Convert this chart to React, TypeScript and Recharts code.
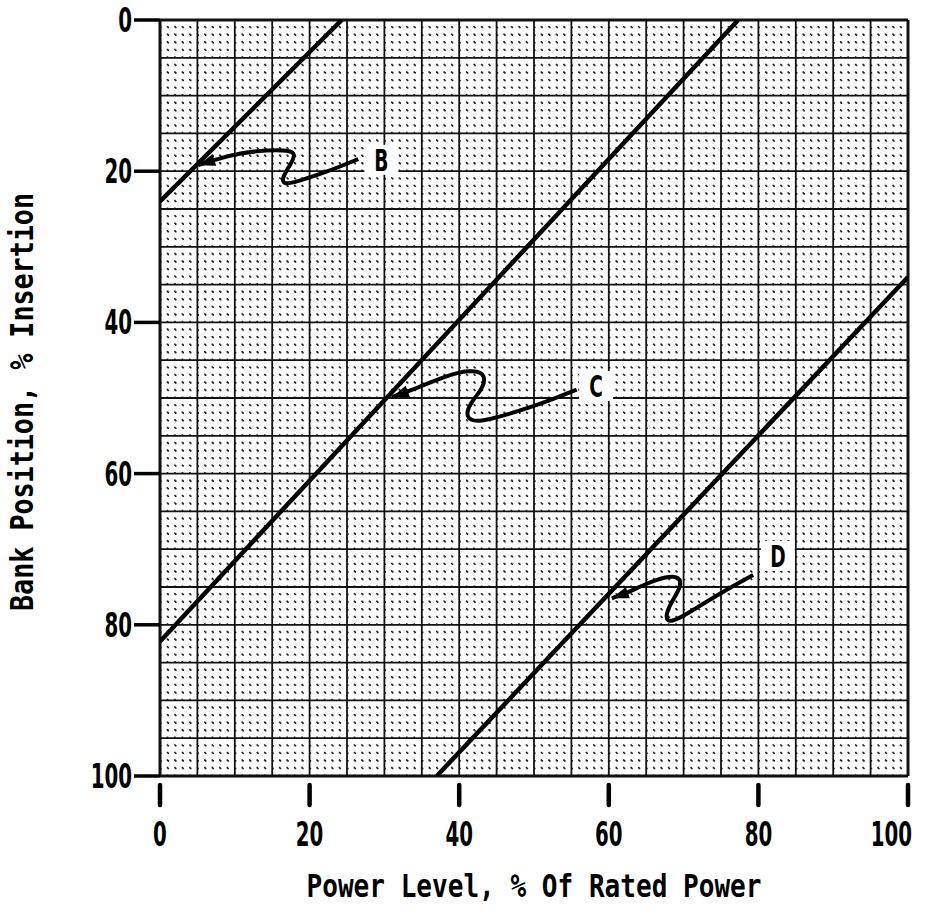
import React from 'react';
import { ComposedChart, Line, XAxis, YAxis, ReferenceLine, ReferenceDot, Label } from 'recharts';

// ---- data ----
const xTicks = [0, 20, 40, 60, 80, 100];
const yTicks = [0, 20, 40, 60, 80, 100];
const majorGrid = [0, 5, 10, 15, 20, 25, 30, 35, 40, 45, 50, 55, 60, 65, 70, 75, 80, 85, 90, 95, 100];
const minorGrid = [
  1, 2, 3, 4, 6, 7, 8, 9, 11, 12, 13, 14, 16, 17, 18, 19, 21, 22, 23, 24, 26, 27, 28, 29,
  31, 32, 33, 34, 36, 37, 38, 39, 41, 42, 43, 44, 46, 47, 48, 49, 51, 52, 53, 54, 56, 57, 58, 59,
  61, 62, 63, 64, 66, 67, 68, 69, 71, 72, 73, 74, 76, 77, 78, 79, 81, 82, 83, 84, 86, 87, 88, 89,
  91, 92, 93, 94, 96, 97, 98, 99,
];

const lineB = [{ x: 0, y: 24.0 }, { x: 24.3, y: 0 }];
const lineC = [{ x: 0, y: 82.2 }, { x: 77.3, y: 0 }];
const lineD = [{ x: 37.0, y: 100 }, { x: 100, y: 34.0 }];

const arrowB = [
  { x: 26.5, y: 18.4 }, { x: 22.3, y: 20.1 }, { x: 18.3, y: 21.4 }, { x: 16.5, y: 21.8 },
  { x: 16.3, y: 20.9 }, { x: 17.4, y: 19.2 }, { x: 18.2, y: 17.7 }, { x: 17.2, y: 17.2 },
  { x: 14.3, y: 17.2 }, { x: 10.7, y: 17.6 }, { x: 7.6, y: 18.4 }, { x: 5.1, y: 19.2 },
];
const arrowC = [
  { x: 55.7, y: 48.9 }, { x: 51.2, y: 50.7 }, { x: 46.4, y: 52.2 }, { x: 42.4, y: 53.3 },
  { x: 40.8, y: 52.6 }, { x: 41.4, y: 50.7 }, { x: 43.4, y: 48.5 }, { x: 43.4, y: 46.6 },
  { x: 41.4, y: 46.3 }, { x: 38.4, y: 47.0 }, { x: 34.8, y: 48.5 }, { x: 31.0, y: 49.9 },
];
const arrowD = [
  { x: 79.3, y: 73.4 }, { x: 74.9, y: 75.8 }, { x: 70.9, y: 78.3 }, { x: 68.2, y: 79.8 },
  { x: 67.5, y: 79.1 }, { x: 68.2, y: 77.2 }, { x: 69.7, y: 75.0 }, { x: 69.5, y: 73.6 },
  { x: 67.7, y: 73.6 }, { x: 65.1, y: 74.5 }, { x: 62.4, y: 75.8 }, { x: 60.4, y: 76.5 },
];

const curveLabels = [
  { name: 'B', x: 29.6, y: 18.5 },
  { name: 'C', x: 58.3, y: 48.4 },
  { name: 'D', x: 82.6, y: 70.9 },
];

const xTitle = 'Power Level, % Of Rated Power';
const yTitle = 'Bank Position, % Insertion';

// ---- rendering helpers ----
const INK = '#000';

const makeArrowDot = (pts: { x: number; y: number }[]) => (props: any) => {
  const { cx, cy, index } = props;
  const n = pts.length;
  if (index !== n - 1 || cx == null || cy == null) return <g key={`d${index}`} />;
  const a = pts[n - 2];
  const b = pts[n - 1];
  const dx = (b.x - a.x) * 7.48;
  const dy = (b.y - a.y) * 7.56;
  const len = Math.hypot(dx, dy) || 1;
  const ux = dx / len;
  const uy = dy / len;
  const L = 17;
  const W = 6;
  const bx = cx - ux * L;
  const by = cy - uy * L;
  const p = `${cx},${cy} ${bx - uy * W},${by + ux * W} ${bx + uy * W},${by - ux * W}`;
  return <polygon key={`arrow${index}`} points={p} fill={INK} />;
};

const XTick = (props: any) => {
  const { x, y, payload } = props;
  const isLast = payload.value === xTicks[xTicks.length - 1];
  return (
    <g>
      <line x1={x} x2={x} y1={y + 9} y2={y + 29} stroke={INK} strokeWidth={4.5} strokeLinecap="round" />
      <text
        transform={`translate(${isLast ? x + 4 : x},${y + 70}) scale(0.6,1)`}
        textAnchor={isLast ? 'end' : 'middle'}
        fontFamily="DejaVu Sans"
        fontWeight="bold"
        fontSize={33}
        fill={INK}
      >
        {payload.value}
      </text>
    </g>
  );
};

const YTick = (props: any) => {
  const { x, y, payload } = props;
  return (
    <g>
      <line x1={x - 26} x2={x} y1={y} y2={y} stroke={INK} strokeWidth={3.5} />
      <text
        transform={`translate(${x - 28},${y + 12}) scale(0.6,1)`}
        textAnchor="end"
        fontFamily="DejaVu Sans"
        fontWeight="bold"
        fontSize={33}
        fill={INK}
      >
        {payload.value}
      </text>
    </g>
  );
};

const LabelShape = (name: string) => (props: any) => {
  const { cx, cy } = props;
  if (cx == null || cy == null) return <g />;
  return (
    <g>
      <rect x={cx - 17} y={cy - 15} width={34} height={30} fill="#fff" />
      <text
        transform={`translate(${cx},${cy + 11}) scale(0.62,1)`}
        textAnchor="middle"
        fontFamily="DejaVu Sans"
        fontWeight="bold"
        fontSize={30}
        fill={INK}
      >
        {name}
      </text>
    </g>
  );
};

export default function App() {
  return (
    <div style={{ position: 'absolute', left: 0, top: 0, width: 925, height: 918, background: '#fff' }}>
      <ComposedChart width={925} height={918} margin={{ top: 20, right: 17, bottom: 42, left: 60 }}>
        <XAxis
          type="number"
          dataKey="x"
          domain={[0, 100]}
          ticks={xTicks}
          allowDataOverflow
          axisLine={false}
          tickLine={false}
          tickSize={0}
          tickMargin={0}
          height={100}
          tick={<XTick />}
          interval={0}
        >
          <Label
            content={(p: any) => {
              const vb = p.viewBox || { x: 160, y: 776, width: 748 };
              return (
                <text
                  x={vb.x + vb.width / 2}
                  y={vb.y + 121}
                  textAnchor="middle"
                  fontFamily="DejaVu Sans Mono"
                  fontWeight="bold"
                  fontSize={32}
                  textLength={455}
                  lengthAdjust="spacingAndGlyphs"
                  fill={INK}
                >
                  {xTitle}
                </text>
              );
            }}
          />
        </XAxis>
        <YAxis
          type="number"
          dataKey="y"
          domain={[0, 100]}
          reversed
          ticks={yTicks}
          allowDataOverflow
          axisLine={false}
          tickLine={false}
          tickSize={0}
          tickMargin={0}
          width={100}
          tick={<YTick />}
          interval={0}
        >
          <Label
            content={(p: any) => {
              const vb = p.viewBox || { x: 60, y: 20, height: 756 };
              const cy = vb.y + vb.height / 2 + 4;
              return (
                <text
                  transform={`translate(33,${cy}) rotate(-90)`}
                  textAnchor="middle"
                  fontFamily="DejaVu Sans Mono"
                  fontWeight="bold"
                  fontSize={32}
                  textLength={418}
                  lengthAdjust="spacingAndGlyphs"
                  fill={INK}
                >
                  {yTitle}
                </text>
              );
            }}
          />
        </YAxis>

        {minorGrid.map((v) => (
          <ReferenceLine
            key={`mh${v}`}
            y={v}
            stroke="#222"
            strokeWidth={1.6}
            strokeDasharray="1.6 5.88"
          />
        ))}
        {minorGrid.map((v) => (
          <ReferenceLine
            key={`mv${v}`}
            x={v}
            stroke="#222"
            strokeWidth={1.6}
            strokeDasharray="1.6 5.96"
          />
        ))}
        {majorGrid.map((v) => (
          <ReferenceLine
            key={`Mh${v}`}
            y={v}
            stroke="#111"
            strokeWidth={v === 0 || v === 100 ? 3 : 1.8}
          />
        ))}
        {majorGrid.map((v) => (
          <ReferenceLine
            key={`Mv${v}`}
            x={v}
            stroke="#111"
            strokeWidth={v === 0 || v === 100 ? 3 : 1.8}
          />
        ))}

        <Line data={lineB} dataKey="y" type="linear" stroke={INK} strokeWidth={4.5} dot={false} isAnimationActive={false} />
        <Line data={lineC} dataKey="y" type="linear" stroke={INK} strokeWidth={4.5} dot={false} isAnimationActive={false} />
        <Line data={lineD} dataKey="y" type="linear" stroke={INK} strokeWidth={4.5} dot={false} isAnimationActive={false} />

        <Line data={arrowB} dataKey="y" type="basis" stroke={INK} strokeWidth={4} dot={makeArrowDot(arrowB)} activeDot={false} isAnimationActive={false} />
        <Line data={arrowC} dataKey="y" type="basis" stroke={INK} strokeWidth={4} dot={makeArrowDot(arrowC)} activeDot={false} isAnimationActive={false} />
        <Line data={arrowD} dataKey="y" type="basis" stroke={INK} strokeWidth={4} dot={makeArrowDot(arrowD)} activeDot={false} isAnimationActive={false} />

        {curveLabels.map((l) => (
          <ReferenceDot key={l.name} x={l.x} y={l.y} r={0} shape={LabelShape(l.name)} />
        ))}
      </ComposedChart>
    </div>
  );
}
